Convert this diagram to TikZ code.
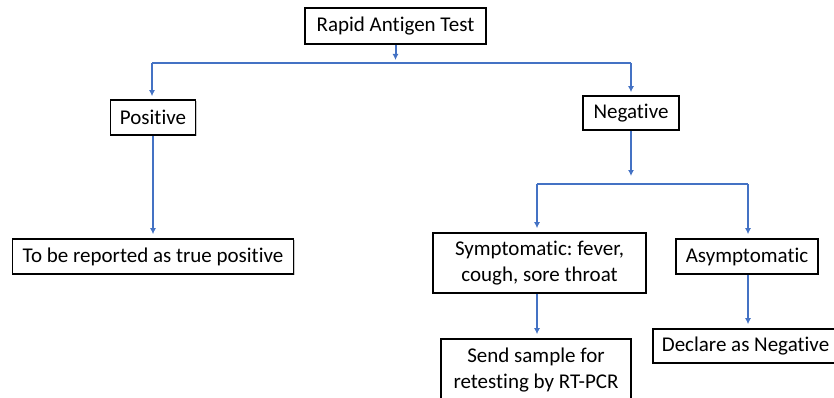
\documentclass[tikz,border=0pt]{standalone}
\usepackage{fontspec}
\setmainfont{Carlito}[Ligatures=NoCommon]
\usetikzlibrary{arrows.meta,shadows}
\definecolor{linkblue}{RGB}{68,114,196}
\frenchspacing
\begin{document}
\begin{tikzpicture}[x=1pt,y=-1pt,
  box/.style={draw,line width=1.6pt,fill=white,inner sep=0pt,align=center,
    font=\fontsize{21}{25.5}\selectfont,
    drop shadow={shadow xshift=1pt,shadow yshift=-1pt,opacity=0.35,fill=black!60}},
  link/.style={draw=linkblue,line width=2pt},
  >={Latex[length=6pt,width=6pt]}]
\useasboundingbox (0,0) rectangle (834,398);
\node[box,minimum width=181pt,minimum height=36pt] (rat) at (395.5,26) {Rapid Antigen Test};
\node[box,minimum width=85pt,minimum height=35pt] (pos) at (153,117.5) {Positive};
\node[box,minimum width=96pt,minimum height=34pt] (neg) at (631,113) {Negative};
\node[box,minimum width=281pt,minimum height=35pt] (rep) at (153,256.5) {To be reported as true positive};
\node[box,minimum width=213pt,minimum height=60pt] (sym) at (539.5,263) {Symptomatic: fever,\\cough, sore throat};
\node[box,minimum width=142pt,minimum height=35pt] (asy) at (747,256.5) {Asymptomatic};
\node[box,minimum width=190pt,minimum height=62pt] (send) at (536,370) {Send sample for\\retesting by RT-PCR};
\node[box,minimum width=185pt,minimum height=34pt] (decl) at (745.5,346) {Declare as Negative};
\coordinate (b1l) at (152,63);
\coordinate (b1r) at (631,63);
\coordinate (b2l) at (537,184);
\coordinate (b2r) at (748,184);
\draw[link,->,shorten >=3pt] (rat) -- (rat.south |- b1l);
\draw[link] (b1l) -- (b1r);
\draw[link,->,shorten >=3pt] (b1l) -- (b1l |- pos.north);
\draw[link,->,shorten >=3pt] (b1r) -- (b1r |- neg.north);
\draw[link,->,shorten >=4pt] (pos) -- (rep);
\draw[link,->,shorten >=8pt] (neg) -- (neg.south |- b2l);
\draw[link] (b2l) -- (b2r);
\draw[link,->,shorten >=4pt] (b2l) -- (b2l |- sym.north);
\draw[link,->,shorten >=4pt] (b2r) -- (b2r |- asy.north);
\draw[link,->,shorten >=4pt] (b2l |- sym.south) -- (b2l |- send.north);
\draw[link,->,shorten >=4pt] (b2r |- asy.south) -- (b2r |- decl.north);
\end{tikzpicture}
\end{document}
